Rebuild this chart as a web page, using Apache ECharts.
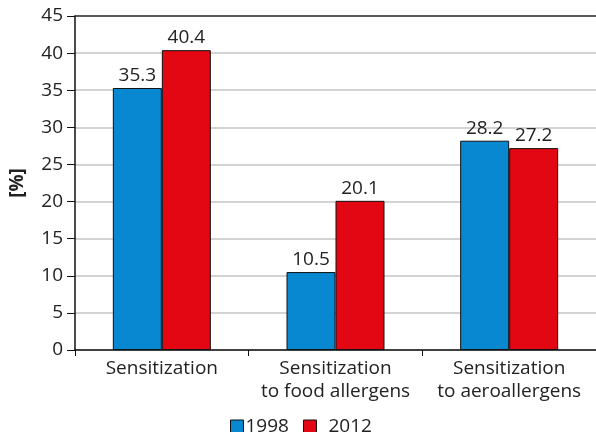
<!DOCTYPE html>
<html>
<head>
<meta charset="utf-8">
<script src="https://cdn.jsdelivr.net/npm/echarts@6/dist/echarts.min.js"></script>
<style>
  html, body { margin: 0; padding: 0; background: #fff; }
  #main { width: 596px; height: 432px; }
</style>
</head>
<body>
<div id="main"></div>
<script>
// data
const categories = ['Sensitization', 'Sensitization\nto food allergens', 'Sensitization\nto aeroallergens'];
const values1998 = [35.3, 10.5, 28.2];
const values2012 = [40.4, 20.1, 27.2];
const yTicks = [0, 5, 10, 15, 20, 25, 30, 35, 40, 45];

const font = 'Open Sans';
const myChart = echarts.init(document.getElementById('main'));

const option = {
    animation: false,
    textStyle: { fontFamily: font },
    grid: { left: 75, right: 0, top: 16, bottom: 82, containLabel: false },
    legend: {
        top: 412,
        left: 225,
        itemWidth: 13,
        itemHeight: 13,
        itemGap: 14,
        icon: 'rect',
        itemStyle: { borderColor: '#111', borderWidth: 1 },
        textStyle: { fontSize: 19, color: '#222', fontFamily: font },
        data: [
            { name: '1998', textStyle: { padding: [0, 0, 0, -3] } },
            { name: '2012', textStyle: { padding: [0, 0, 0, 7] } }
        ]
    },
    xAxis: [
        {
            type: 'category',
            data: categories,
            axisLine: { lineStyle: { color: '#111', width: 1.5 } },
            axisTick: { show: true, length: 6, interval: 0, lineStyle: { color: '#111' } },
            axisLabel: { interval: 0, fontSize: 19, color: '#222', lineHeight: 23, margin: 7, fontFamily: font }
        },
        {
            // dark frame line along the top of the plot
            type: 'category',
            position: 'top',
            data: categories,
            axisLine: { show: true, lineStyle: { color: '#333', width: 1.5 } },
            axisTick: { show: false },
            axisLabel: { show: false }
        }
    ],
    yAxis: {
        type: 'value',
        min: yTicks[0],
        max: yTicks[yTicks.length - 1],
        interval: 5,
        name: '[%]',
        nameLocation: 'middle',
        nameGap: 48,
        nameTextStyle: { fontSize: 19, fontWeight: 'bold', color: '#222', fontFamily: font },
        axisLine: { show: true, lineStyle: { color: '#111', width: 1.5 } },
        axisTick: { show: true, length: 8, lineStyle: { color: '#111' } },
        axisLabel: { fontSize: 19, color: '#222', margin: 12, fontFamily: font },
        splitLine: { show: true, lineStyle: { color: '#c4c4c4', width: 1.5 } }
    },
    series: [
        {
            name: '1998',
            type: 'bar',
            data: values1998,
            barWidth: 49,
            barGap: '0%',
            itemStyle: { color: '#0788d0', borderColor: '#111', borderWidth: 1 },
            label: { show: true, position: 'top', fontSize: 19, color: '#222', distance: 3, fontFamily: font }
        },
        {
            name: '2012',
            type: 'bar',
            data: values2012,
            barWidth: 49,
            itemStyle: { color: '#e30613', borderColor: '#111', borderWidth: 1 },
            label: { show: true, position: 'top', fontSize: 19, color: '#222', distance: 3, fontFamily: font }
        }
    ]
};

myChart.setOption(option);
</script>
</body>
</html>
